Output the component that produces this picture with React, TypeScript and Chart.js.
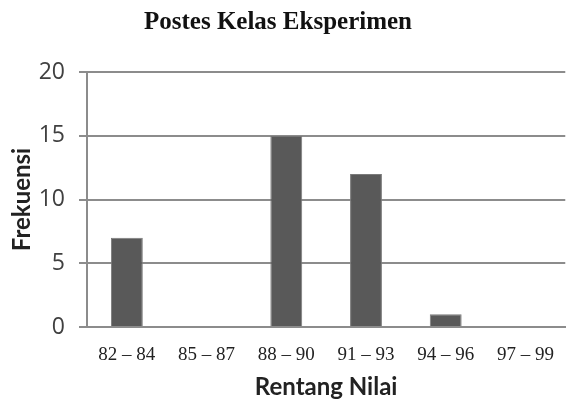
import React, { useEffect, useRef } from "react";
import { Chart, registerables } from "chart.js";

Chart.register(...registerables);

const chartTitle = "Postes Kelas Eksperimen";
const categories = ["82 – 84", "85 – 87", "88 – 90", "91 – 93", "94 – 96", "97 – 99"];
const frekuensi = [7, 0, 15, 12, 1, 0];
const yTicks = [0, 5, 10, 15, 20];

const titleFont = { family: "Liberation Serif", size: 25, weight: "bold" as const };

const offsetTitle = {
  id: "offsetTitle",
  afterDraw(chart: any) {
    const ctx = chart.ctx;
    ctx.save();
    ctx.font = `bold ${titleFont.size}px "${titleFont.family}"`;
    ctx.fillStyle = "#111";
    ctx.textAlign = "center";
    ctx.textBaseline = "middle";
    ctx.fillText(chartTitle, 278, 8 + (titleFont.size * 1.2) / 2);
    ctx.restore();
  },
};

export default function App() {
  const ref = useRef<HTMLCanvasElement | null>(null);
  useEffect(() => {
    if (!ref.current) return;
    const chart = new Chart(ref.current, {
      type: "bar",
      data: {
        labels: categories,
        datasets: [
          {
            label: "Frekuensi",
            data: frekuensi,
            backgroundColor: "#595959",
            borderColor: "#7a7a7a",
            borderWidth: 1,
            barPercentage: 0.4,
            categoryPercentage: 1,
          },
        ],
      },
      plugins: [offsetTitle],
      options: {
        responsive: false,
        animation: false,
        layout: { padding: { left: 0, right: 1, top: 0, bottom: 0 } },
        plugins: {
          legend: { display: false },
          tooltip: { enabled: false },
          title: {
            display: true,
            text: chartTitle,
            color: "rgba(0,0,0,0)",
            font: titleFont,
            padding: { top: 8, bottom: 34 },
          },
        },
        scales: {
          x: {
            grid: { display: false, drawTicks: false },
            border: { display: true, color: "#8c8c8c", width: 2 },
            ticks: {
              color: "#222",
              font: { family: "Liberation Serif", size: 19 },
              padding: 17,
              maxRotation: 0,
            },
            title: {
              display: true,
              text: "Rentang Nilai",
              color: "#222",
              font: { family: "Lato", size: 24, weight: "bold" },
              padding: { top: 10, bottom: 6 },
            },
            afterFit: (s: any) => {
              s.height = 408 - 327;
            },
          },
          y: {
            min: 0,
            max: 20,
            afterBuildTicks: (s: any) => {
              s.ticks = yTicks.map((v) => ({ value: v }));
            },
            grid: { color: "#8c8c8c", lineWidth: 2, tickLength: 8, drawTicks: true },
            border: { display: true, color: "#8c8c8c", width: 2 },
            ticks: {
              color: "#404040",
              font: { family: "Open Sans", size: 23 },
              padding: 14,
            },
            title: {
              display: true,
              text: "Frekuensi",
              color: "#222",
              font: { family: "Lato", size: 24, weight: "bold" },
              padding: { top: 8, bottom: 0 },
            },
            afterFit: (s: any) => {
              s.width = 87;
            },
          },
        },
      },
    });
    return () => chart.destroy();
  }, []);
  return (
    <div style={{ position: "fixed", left: 0, top: 0, width: 571, height: 408, background: "#fff" }}>
      <canvas ref={ref} width={571} height={408} />
    </div>
  );
}
